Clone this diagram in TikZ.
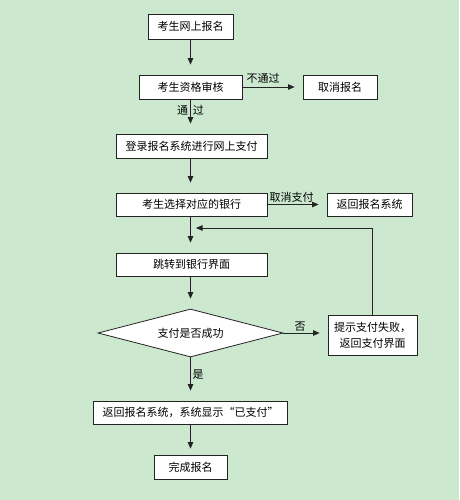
\documentclass[tikz,border=0pt]{standalone}
\usepackage{fontspec}
\setmainfont{Noto Sans CJK SC}
\usetikzlibrary{arrows.meta,shapes.geometric}
\definecolor{bgc}{RGB}{204,232,207}
\definecolor{ln}{RGB}{35,35,35}
\tikzset{
  box/.style={draw=ln, line width=0.8pt, fill=white, inner sep=0pt, font=\fontsize{11}{16}\selectfont, align=center},
  lbl/.style={inner sep=0pt, font=\fontsize{11}{12}\selectfont},
  arr/.style={draw=ln, line width=0.8pt, -{Triangle[length=6.5pt,width=5.5pt]}, shorten >=10pt},
  harr/.style={arr, shorten >=8pt}
}
\begin{document}
\begin{tikzpicture}[x=1pt,y=-1pt]
\fill[bgc] (0,0) rectangle (459,500);
\useasboundingbox (0,0) rectangle (459,500);
\node[box, minimum width=85pt, minimum height=25pt] (n1) at (190.5,26.5) {考生网上报名};
\node[box, minimum width=103pt, minimum height=24pt] (n2) at (190.5,87) {考生资格审核};
\node[box, minimum width=74pt, minimum height=24pt] (n3) at (340,87) {取消报名};
\node[box, minimum width=151pt, minimum height=24pt] (n4) at (191.5,146) {登录报名系统进行网上支付};
\node[box, minimum width=151pt, minimum height=23pt] (n5) at (191.5,204.5) {考生选择对应的银行};
\node[box, minimum width=85pt, minimum height=23pt] (n6) at (369.5,204.5) {返回报名系统};
\node[box, minimum width=151pt, minimum height=23pt] (n7) at (191.5,264.5) {跳转到银行界面};
\node[box, diamond, aspect=3.85, minimum width=185pt, minimum height=48pt] (n8) at (190.5,333) {支付是否成功};
\node[box, minimum width=89pt, minimum height=40pt] (n9) at (372.5,335) {提示支付失败，\\返回支付界面};
\node[box, minimum width=194pt, minimum height=23pt] (n10) at (190.5,412.5) {返回报名系统，系统显示“已支付”};
\node[box, minimum width=73pt, minimum height=24pt] (n11) at (190.5,467) {完成报名};
\coordinate (fbt) at (196,228);
% connectors
\draw[arr] (n1.south) -- (n1.south |- n2.north);
\draw[harr] (n2.east) -- (n3.west);
\draw[arr] (n2.south) -- (n2.south |- n4.north);
\draw[arr] (n4.south -| n2.south) -- (n2.south |- n5.north);
\draw[harr] (n5.east) -- (n6.west);
\draw[arr] (n5.south -| n2.south) -- (n2.south |- n7.north);
\draw[arr] (n7.south -| n2.south) -- (n8.north);
\draw[harr] (n8.east) -- (n9.west |- n8.east);
\draw[arr, shorten >=0pt] (n9.north) |- (fbt);
\draw[arr] (n8.south) -- (n8.south |- n10.north);
\draw[arr, shorten >=6pt] (n10.south) -- (n11.north);
% labels
\node[lbl] (l1) at (263,78) {不通过};
\node[lbl] (l2) at (190.5,110) {通\hspace{5pt}过};
\node[lbl] (l3) at (291.5,197) {取消支付};
\node[lbl] (l4) at (300,327) {否};
\node[lbl] (l5) at (198,375) {是};
\end{tikzpicture}
\end{document}
